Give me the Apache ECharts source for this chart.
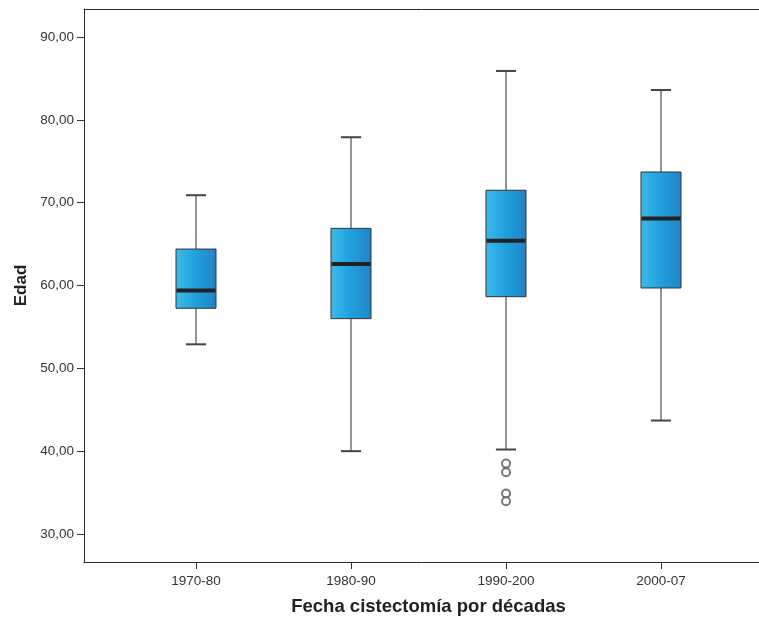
<!DOCTYPE html>
<html>
<head>
<meta charset="utf-8">
<style>
  html, body { margin: 0; padding: 0; background: #ffffff; }
  #chart { width: 759px; height: 624px; }
</style>
<script src="https://cdn.jsdelivr.net/npm/echarts@6/dist/echarts.min.js"></script>
</head>
<body>
<div id="chart"></div>
<script>
// Age at cystectomy, grouped by decade
const categories = ['1970-80', '1980-90', '1990-200', '2000-07'];
const whiskerLow  = [52.9, 40.0, 40.2, 43.7];
const quartile1   = [57.25, 56.0, 58.65, 59.7];
const medians     = [59.4, 62.6, 65.4, 68.1];
const quartile3   = [64.4, 66.9, 71.5, 73.7];
const whiskerHigh = [70.9, 77.9, 85.9, 83.6];
// outliers: [category index, age]
const outliers = [[2, 38.5], [2, 37.45], [2, 34.9], [2, 33.95]];
const yTicks = [30, 40, 50, 60, 70, 80, 90];

const xName = 'Fecha cistectomía por décadas';
const yName = 'Edad';

const boxData = categories.map((c, i) =>
  [i, whiskerLow[i], quartile1[i], medians[i], quartile3[i], whiskerHigh[i]]);

const fmt = v => Number(v).toFixed(2).replace('.', ',');

function renderBox(params, api) {
  const idx = api.value(0);
  const band = api.size([1, 0])[0];
  const boxW = band * 0.258;
  const capW = band * 0.13;
  const pLow = api.coord([idx, api.value(1)]);
  const pQ1 = api.coord([idx, api.value(2)]);
  const pMed = api.coord([idx, api.value(3)]);
  const pQ3 = api.coord([idx, api.value(4)]);
  const pHigh = api.coord([idx, api.value(5)]);
  const cx = pMed[0];
  const lineStyle = { stroke: '#2a2a2a', lineWidth: 1 };
  const capStyle = { stroke: '#444444', lineWidth: 2 };
  return {
    type: 'group',
    children: [
      { type: 'line', shape: { x1: cx, y1: pQ3[1], x2: cx, y2: pHigh[1] }, style: lineStyle },
      { type: 'line', shape: { x1: cx, y1: pQ1[1], x2: cx, y2: pLow[1] }, style: lineStyle },
      { type: 'line', shape: { x1: cx - capW / 2, y1: pHigh[1], x2: cx + capW / 2, y2: pHigh[1] }, style: capStyle },
      { type: 'line', shape: { x1: cx - capW / 2, y1: pLow[1], x2: cx + capW / 2, y2: pLow[1] }, style: capStyle },
      {
        type: 'rect',
        shape: { x: cx - boxW / 2, y: pQ3[1], width: boxW, height: pQ1[1] - pQ3[1] },
        style: {
          fill: new echarts.graphic.LinearGradient(0, 0, 1, 0, [
            { offset: 0, color: '#3dbbea' },
            { offset: 0.5, color: '#1fa0dc' },
            { offset: 1, color: '#2383c6' }
          ]),
          stroke: '#333333',
          lineWidth: 1
        }
      },
      { type: 'line', shape: { x1: cx - boxW / 2 + 0.5, y1: pMed[1], x2: cx + boxW / 2 - 0.5, y2: pMed[1] },
        style: { stroke: '#222222', lineWidth: 4 } }
    ]
  };
}

const frameLine = { show: true, lineStyle: { color: '#2a2a2a', width: 1 } };

const chart = echarts.init(document.getElementById('chart'), null, { renderer: 'canvas' });
chart.setOption({
  backgroundColor: '#ffffff',
  animation: false,
  textStyle: { fontFamily: 'Liberation Sans, Arial, sans-serif' },
  grid: [
    // outer frame: left, top and bottom edges, open on the right
    { left: 84, top: 9, right: 0, bottom: 62 },
    // plotting region spanning 30..90
    { left: 118.5, top: 37, right: 20.5, bottom: 90 }
  ],
  xAxis: [
    { gridIndex: 0, type: 'value', position: 'bottom', min: 0, max: 1,
      axisLine: frameLine, axisTick: { show: false }, axisLabel: { show: false }, splitLine: { show: false } },
    { gridIndex: 0, type: 'value', position: 'top', min: 0, max: 1,
      axisLine: frameLine, axisTick: { show: false }, axisLabel: { show: false }, splitLine: { show: false } },
    {
      gridIndex: 1, type: 'category', data: categories, boundaryGap: true,
      offset: 28,
      axisLine: { show: false },
      axisTick: { show: true, alignWithLabel: true, length: 7, lineStyle: { color: '#333' } },
      axisLabel: { margin: 12, fontSize: 13.5, color: '#333' },
      name: xName, nameLocation: 'middle', nameGap: 35,
      nameTextStyle: { fontSize: 18.5, fontWeight: 'bold', color: '#222' }
    }
  ],
  yAxis: [
    { gridIndex: 0, type: 'value', position: 'left', min: 0, max: 1,
      axisLine: frameLine, axisTick: { show: false }, axisLabel: { show: false }, splitLine: { show: false } },
    {
      gridIndex: 1, type: 'value', min: yTicks[0], max: yTicks[yTicks.length - 1], interval: 10,
      offset: 34.5,
      axisLine: { show: false },
      axisTick: { show: true, length: 7, lineStyle: { color: '#333' } },
      axisLabel: { margin: 10, fontSize: 13.5, color: '#333', formatter: fmt },
      splitLine: { show: false },
      name: yName, nameLocation: 'middle', nameGap: 54,
      nameTextStyle: { fontSize: 17, fontWeight: 'bold', color: '#222' }
    }
  ],
  series: [
    {
      type: 'custom',
      xAxisIndex: 2, yAxisIndex: 1,
      data: boxData,
      renderItem: renderBox,
      encode: { x: 0, y: [1, 2, 3, 4, 5] }
    },
    {
      type: 'scatter',
      xAxisIndex: 2, yAxisIndex: 1,
      data: outliers,
      symbol: 'emptyCircle',
      symbolSize: 8,
      z: 5,
      itemStyle: { color: '#555555', borderWidth: 1 }
    }
  ]
});
</script>
</body>
</html>
